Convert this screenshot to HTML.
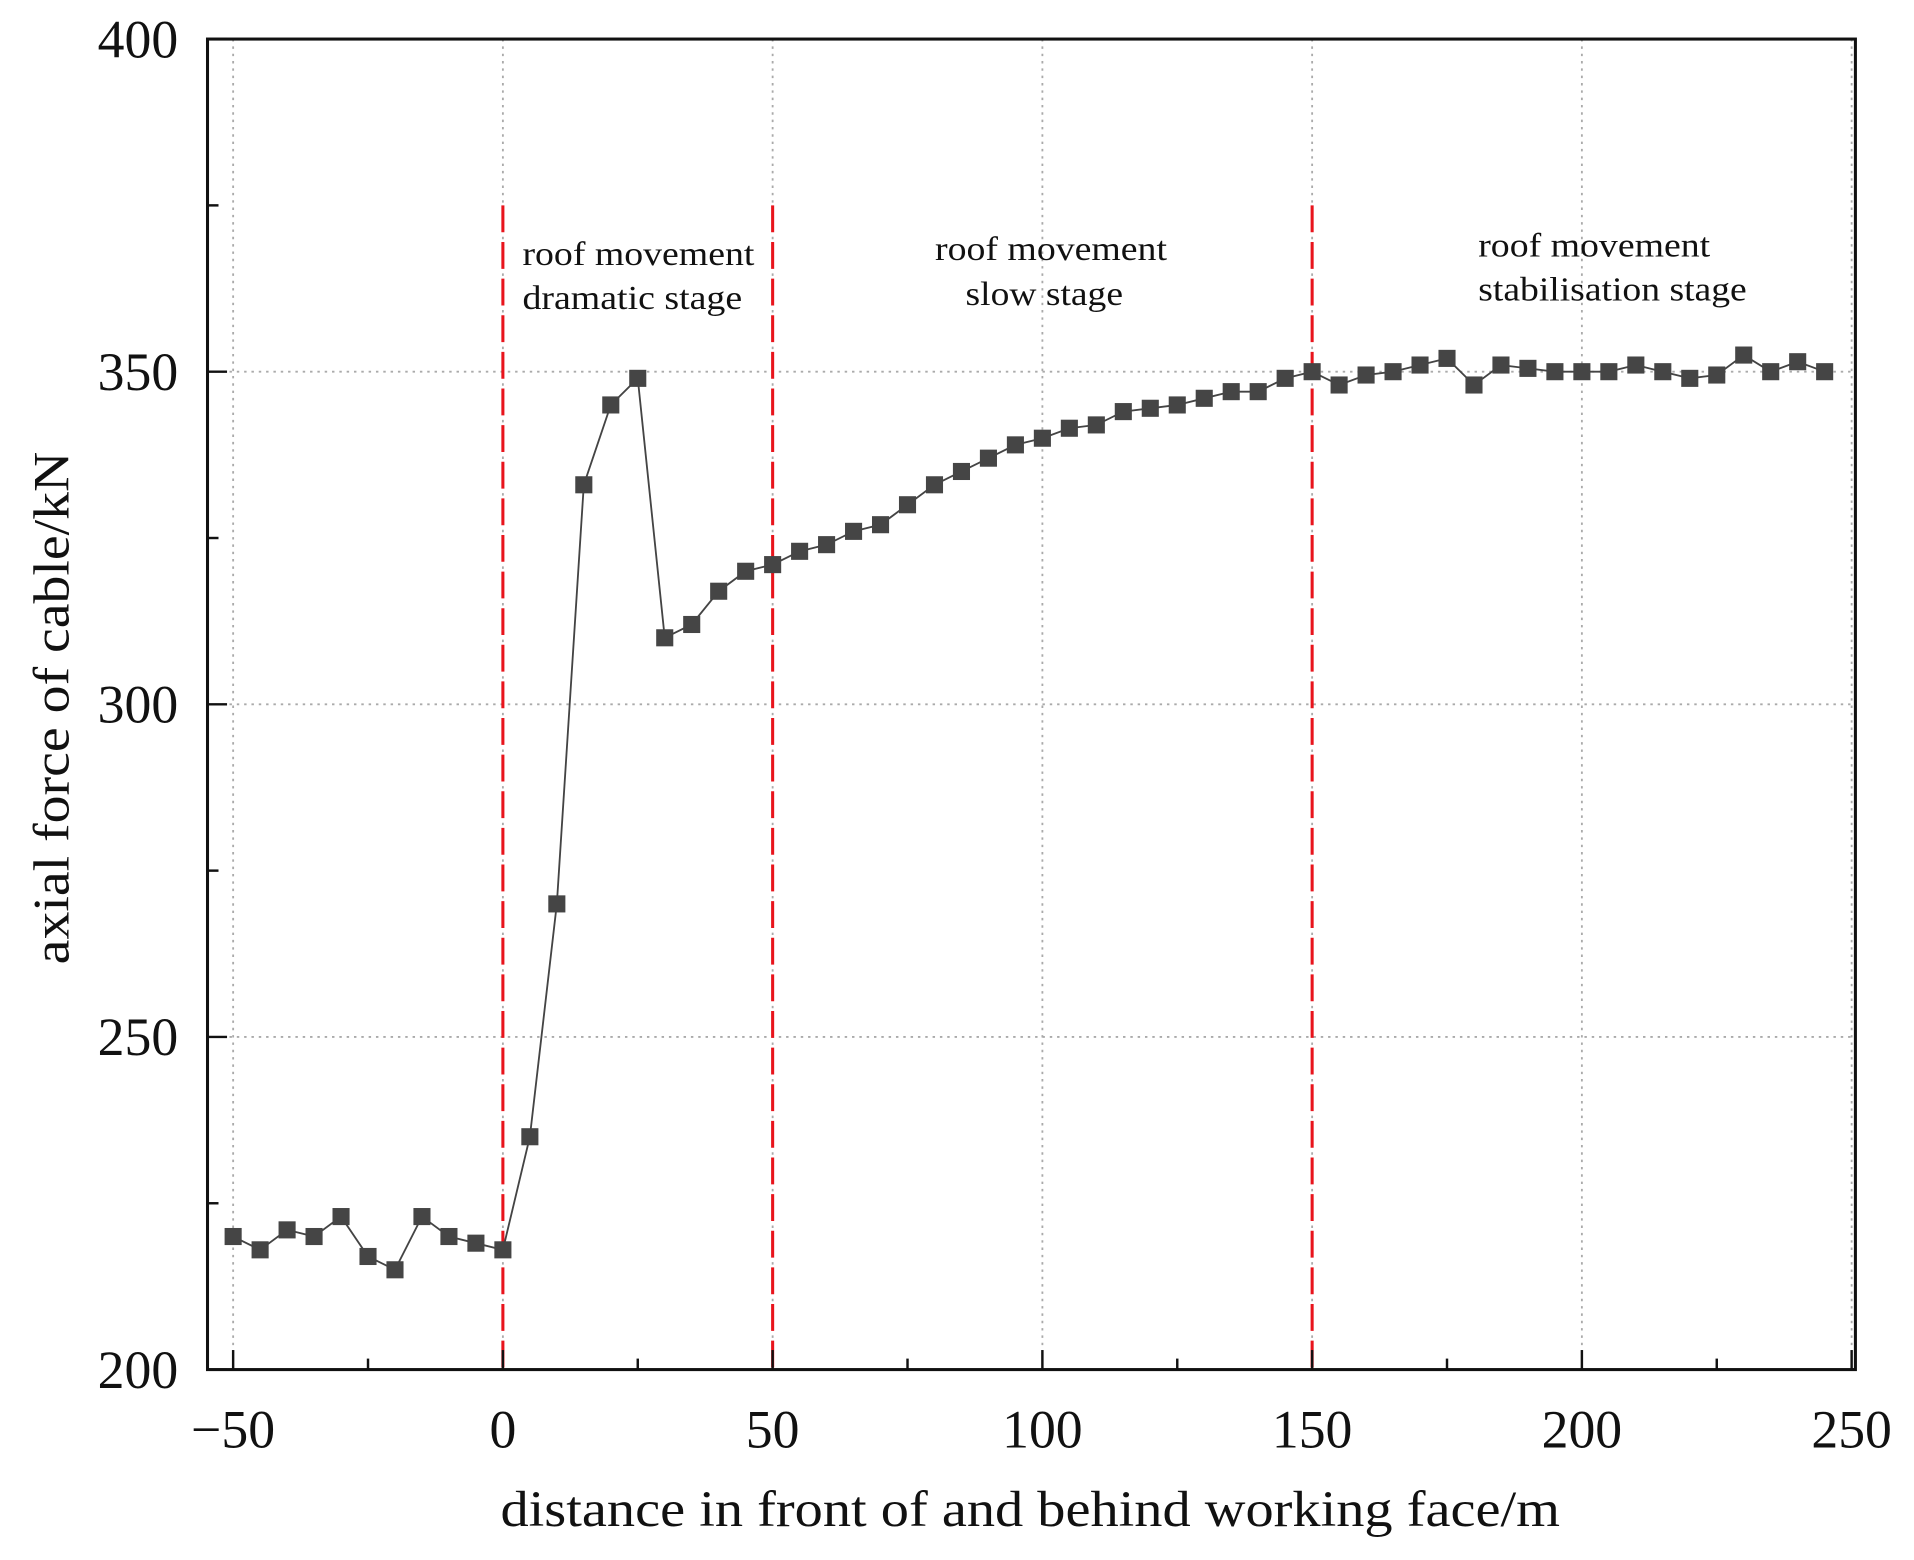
<!DOCTYPE html>
<html><head><meta charset="utf-8"><style>
html,body{margin:0;padding:0;background:#fff;}
svg{display:block;}
text{font-family:"Liberation Serif",serif;fill:#111;}
</style></head><body>
<svg id="chart" width="1914" height="1560" viewBox="0 0 1568 1278" preserveAspectRatio="none" xmlns="http://www.w3.org/2000/svg">
<g id="grid"></g>
<g id="stages"></g>
<g id="series"></g>
<g id="axes"></g>
<g font-size="28">
<text x="428" y="217" textLength="190" lengthAdjust="spacingAndGlyphs">roof movement</text>
<text x="428" y="253" textLength="180" lengthAdjust="spacingAndGlyphs">dramatic stage</text>
<text x="766" y="213" textLength="190" lengthAdjust="spacingAndGlyphs">roof movement</text>
<text x="791" y="250" textLength="129" lengthAdjust="spacingAndGlyphs">slow stage</text>
<text x="1211" y="210" textLength="190" lengthAdjust="spacingAndGlyphs">roof movement</text>
<text x="1211" y="246" textLength="220" lengthAdjust="spacingAndGlyphs">stabilisation stage</text>
</g>
<text x="410" y="1250" font-size="42" textLength="868" lengthAdjust="spacingAndGlyphs">distance in front of and behind working face/m</text>
<text transform="translate(56,790) rotate(-90)" font-size="42" textLength="420" lengthAdjust="spacingAndGlyphs">axial force of cable/kN</text>
</svg>
<script>
const xValues=[-50,-45,-40,-35,-30,-25,-20,-15,-10,-5,0,5,10,15,20,25,30,35,40,45,50,55,60,65,70,75,80,85,90,95,100,105,110,115,120,125,130,135,140,145,150,155,160,165,170,175,180,185,190,195,200,205,210,215,220,225,230,235,240,245];
const forceValues=[220,218,221,220,223,217,215,223,220,219,218,235,270,333,345,349,310,312,317,320,321,323,324,326,327,330,333,335,337,339,340,341.5,342,344,344.5,345,346,347,347,349,350,348,349.5,350,351,352,348,351,350.5,350,350,350,351,350,349,349.5,352.5,350,351.5,350];
const xTicks=[-50,0,50,100,150,200,250];
const xTickLabels=["\u221250","0","50","100","150","200","250"];
const yTicks=[200,250,300,350,400];
const stageBounds=[0,50,150];
const NS="http://www.w3.org/2000/svg";
const L=170,R=1520,T=32,B=1122;
const X0=-54.75,X1=250.7,Y0=200,Y1=400;
function sx(v){return L+(v-X0)/(X1-X0)*(R-L);}
function sy(v){return B-(v-Y0)/(Y1-Y0)*(B-T);}
function mk(tag,attrs,parent){const e=document.createElementNS(NS,tag);for(const k in attrs)e.setAttribute(k,attrs[k]);parent.appendChild(e);return e;}
const grid=document.getElementById('grid'),axes=document.getElementById('axes'),stages=document.getElementById('stages'),series=document.getElementById('series');
xTicks.forEach((v,i)=>{
  if(v>X0&&v<X1){const g=mk('line',{x1:sx(v),x2:sx(v),y1:T,y2:B,stroke:'#aaa','stroke-width':1.5,'stroke-dasharray':'2,4'},grid);
  
  }
  const t=mk('line',{x1:sx(v),x2:sx(v),y1:B,y2:B-16,stroke:'#111','stroke-width':2},axes);
  
  
  const lb=mk('text',{x:sx(v),y:1186,'font-size':44,'text-anchor':'middle'},axes);lb.textContent=xTickLabels[i];
  
  
  if(v+25<X1){const m=mk('line',{x1:sx(v+25),x2:sx(v+25),y1:B,y2:B-9,stroke:'#111','stroke-width':2},axes);
  
  }
});
yTicks.forEach(v=>{
  if(v>Y0&&v<Y1){const g=mk('line',{x1:L,x2:R,y1:sy(v),y2:sy(v),stroke:'#aaa','stroke-width':1.5,'stroke-dasharray':'2,4'},grid);
  
  }
  const t=mk('line',{x1:L,x2:L+16,y1:sy(v),y2:sy(v),stroke:'#111','stroke-width':2},axes);
  
  
  const lb=mk('text',{x:146,y:sy(v)+15,'font-size':44,'text-anchor':'end'},axes);lb.textContent=v;
  
  
  if(v+25<Y1){const m=mk('line',{x1:L,x2:L+9,y1:sy(v+25),y2:sy(v+25),stroke:'#111','stroke-width':2},axes);
  
  }
});
const frame=mk('rect',{x:L,y:T,width:R-L,height:B-T,fill:'none',stroke:'#111','stroke-width':2.5},axes);


stageBounds.forEach(v=>{
  const s=mk('line',{x1:sx(v),x2:sx(v),y1:sy(375),y2:B,stroke:'#e8141c','stroke-width':2.5,'stroke-dasharray':'22,8'},stages);
  
  
});
const pts=xValues.map((x,i)=>sx(x)+','+sy(forceValues[i])).join(' ');
const line=mk('polyline',{points:pts,fill:'none',stroke:'#444','stroke-width':1.5},series);


xValues.forEach((x,i)=>{
  const r=mk('rect',{x:sx(x)-7,y:sy(forceValues[i])-7,width:14,height:14,fill:'#454545'},series);
  
  
});
</script>
</body></html>
